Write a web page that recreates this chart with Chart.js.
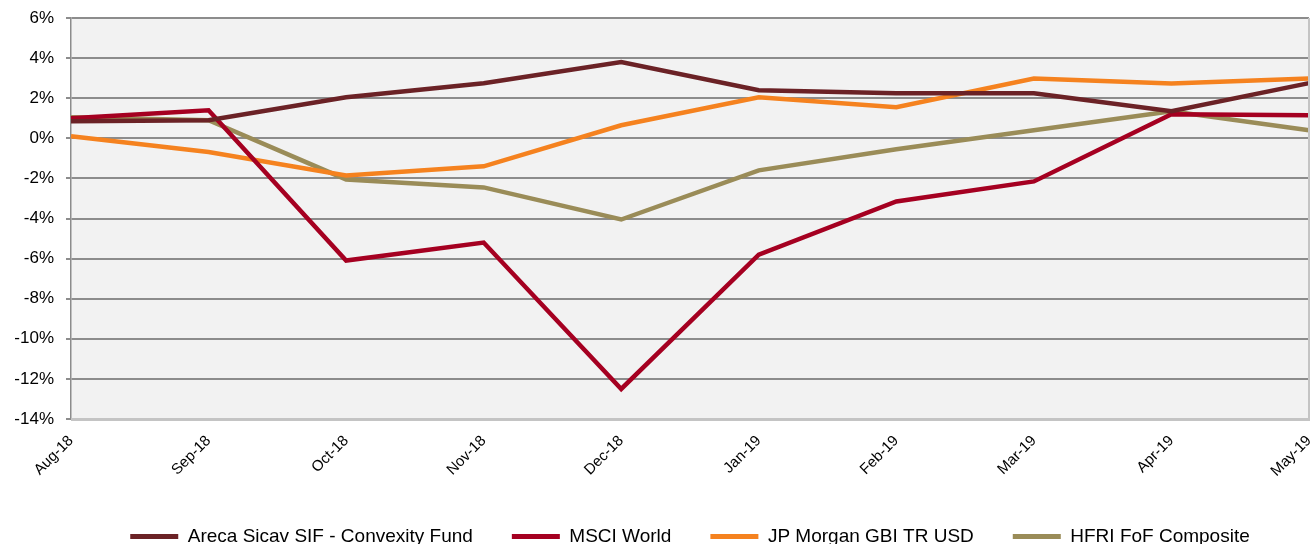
<!DOCTYPE html>
<html><head><meta charset="utf-8">
<script src="https://cdn.jsdelivr.net/npm/chart.js@4.4.1/dist/chart.umd.min.js"></script>
<style>html,body{margin:0;padding:0;background:#fff}#wrap{width:1312px;height:544px}</style>
</head><body><div id="wrap"><canvas id="c" width="1312" height="544"></canvas></div>
<script>
const categories = ["Aug-18","Sep-18","Oct-18","Nov-18","Dec-18","Jan-19","Feb-19","Mar-19","Apr-19","May-19"];
const areca = [0.85, 0.9, 2.05, 2.75, 3.8, 2.4, 2.25, 2.25, 1.35, 2.75];
const msci  = [1.0, 1.4, -6.1, -5.2, -12.5, -5.8, -3.15, -2.15, 1.2, 1.15];
const jpm   = [0.1, -0.68, -1.85, -1.4, 0.65, 2.05, 1.55, 2.98, 2.73, 2.98];
const hfri  = [1.05, 0.9, -2.05, -2.45, -4.05, -1.6, -0.55, 0.4, 1.35, 0.4];
const seriesNames = ["Areca Sicav SIF - Convexity Fund","MSCI World","JP Morgan GBI TR USD","HFRI FoF Composite"];
const colors = ["#6B2226","#A50021","#F5821F","#9A8C58"];
const yTicks = { min: -14, max: 6, step: 2 };

const bgPlugin = {
  id: 'bg',
  beforeDraw(chart) {
    const {ctx, chartArea: a} = chart;
    ctx.save();
    ctx.fillStyle = '#F2F2F2';
    ctx.fillRect(a.left, a.top, a.right - a.left, a.bottom - a.top);
    ctx.restore();
  },
  afterDatasetsDraw(chart) {
    const {ctx, chartArea: a} = chart;
    ctx.save();
    ctx.strokeStyle = '#C4C4C4';
    ctx.lineWidth = 2;
    ctx.beginPath();
    ctx.moveTo(a.right, a.top); ctx.lineTo(a.right, a.bottom);
    ctx.stroke();
    ctx.lineWidth = 3;
    ctx.beginPath();
    ctx.moveTo(a.left, a.bottom + 0.5); ctx.lineTo(a.right + 1, a.bottom + 0.5);
    ctx.stroke();
    ctx.restore();
  }
};

const data = [areca, msci, jpm, hfri];
new Chart(document.getElementById('c'), {
  type: 'line',
  data: {
    labels: categories,
    datasets: data.map((d, i) => ({
      label: seriesNames[i],
      data: d,
      borderColor: colors[i],
      backgroundColor: colors[i],
      borderWidth: 4.5,
      pointRadius: 0,
      tension: 0,
      fill: false
    }))
  },
  options: {
    responsive: false,
    animation: false,
    devicePixelRatio: 1,
    layout: { padding: { top: 18, right: 3, left: 0, bottom: -12 } },
    plugins: {
      tooltip: { enabled: false },
      legend: {
        position: 'bottom',
        fullSize: false,
        labels: {
          font: { family: 'Liberation Sans, Arial', size: 19 },
          color: '#000',
          boxWidth: 48,
          boxHeight: 5,
          padding: 39,
          generateLabels(chart) {
            return chart.data.datasets.map((ds, i) => ({
              text: ds.label, fillStyle: ds.borderColor, strokeStyle: ds.borderColor,
              lineWidth: 0, datasetIndex: i, hidden: false, fontColor: '#000'
            }));
          }
        }
      }
    },
    scales: {
      x: {
        type: 'category',
        offset: false,
        grid: { display: false, drawTicks: false },
        border: { display: false },
        ticks: {
          font: { family: 'Liberation Sans, Arial', size: 15 },
          color: '#000',
          maxRotation: 45, minRotation: 45,
          autoSkip: false,
          padding: 13
        },
        afterFit(s) { s.height = 69; s.paddingRight = 0; s.paddingLeft = 0; }
      },
      y: {
        min: yTicks.min, max: yTicks.max,
        grid: {
          color: ctx => (ctx.tick && ctx.tick.value === yTicks.min) ? 'rgba(0,0,0,0)' : '#8C8C8C',
          lineWidth: 2,
          tickColor: '#8C8C8C',
          tickLength: 5,
          drawTicks: true
        },
        border: { display: true, color: '#8C8C8C', width: 1.5 },
        ticks: {
          stepSize: yTicks.step,
          font: { family: 'Liberation Sans, Arial', size: 17 },
          color: '#000',
          padding: 12,
          callback: v => v + '%'
        },
        afterFit(s) { s.width = 71; s.paddingTop = 0; s.paddingBottom = 0; }
      }
    }
  },
  plugins: [bgPlugin]
});
</script>
</body></html>
